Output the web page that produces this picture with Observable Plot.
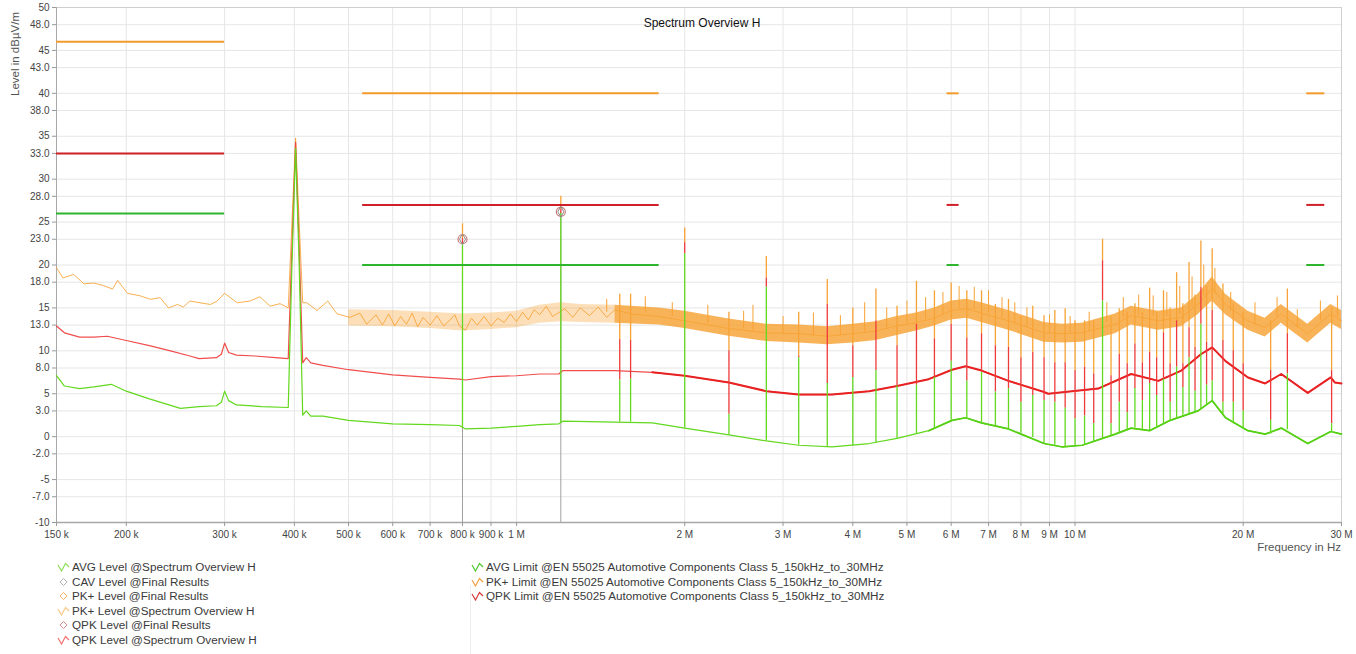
<!DOCTYPE html>
<html><head><meta charset="utf-8">
<script src="https://cdn.jsdelivr.net/npm/d3@7"></script>
<script src="https://cdn.jsdelivr.net/npm/@observablehq/plot@0.6"></script>
<style>
body{margin:0;background:#fff;font-family:"Liberation Sans",Arial,sans-serif;}
#wrap{position:relative;width:1356px;height:654px;overflow:hidden;}
#ylab{position:absolute;left:9px;top:96px;transform:rotate(-90deg);transform-origin:left top;font-size:11.5px;color:#555;white-space:nowrap;line-height:13px;}
#xlab{position:absolute;right:15px;top:541px;font-size:11.5px;color:#555;white-space:nowrap;}
.leg{position:absolute;font-size:11.7px;color:#3a3a3a;line-height:14.5px;white-space:nowrap;}
.leg div{height:14.5px;display:flex;align-items:center;}
.leg svg{margin-right:2px;flex:none;}
#sep{position:absolute;left:470px;top:585px;width:1px;height:69px;background:#eee;}
</style></head><body><div id="wrap">
<div id="ylab">Level in dBµV/m</div>
<div id="xlab">Frequency in Hz</div>
<div id="sep"></div>
<div class="leg" id="legL" style="left:57px;top:560px;"></div>
<div class="leg" id="legR" style="left:471px;top:560px;"></div>
</div>
<script>
// ---------- axis ticks ----------
const xTicks = [150e3,200e3,300e3,400e3,500e3,600e3,700e3,800e3,900e3,1e6,2e6,3e6,4e6,5e6,6e6,7e6,8e6,9e6,10e6,20e6,30e6];
const yTicks = [50,48,45,43,40,38,35,33,30,28,25,23,20,18,15,13,10,8,5,3,0,-2,-5,-7,-10];

// ---------- limit lines (EN 55025 Class 5) ----------
const limitStart = [150e3, 530e3, 5.9e6, 26e6];
const limitEnd   = [300e3, 1.8e6, 6.2e6, 28e6];
const pkLimit    = [46, 40, 40, 40];
const qpkLimit   = [33, 27, 27, 27];
const avgLimit   = [26, 20, 20, 20];

// ---------- PK+ level trace ----------
const pkFreq  = [150e3,154e3,161e3,168e3,175e3,182e3,189e3,193e3,201e3,212e3,221e3,230e3,238e3,247e3,253e3,260e3,271e3,283e3,291e3,300e3,316e3,333e3,347e3,362e3,377e3,390e3,396e3,402e3,408e3,414e3,421e3,439e3,459e3,477e3,503e3,524e3,539e3,560e3,575e3,590e3,605e3,620e3,635e3,650e3,665e3,680e3,700e3,720e3,740e3,760e3,775e3,790e3,810e3,830e3,850e3,875e3,900e3,925e3,950e3,975e3,1.0e6,1.025e6,1.05e6,1.075e6,1.1e6,1.13e6,1.16e6,1.22e6,1.26e6,1.3e6,1.35e6,1.4e6,1.45e6,1.5e6,1.6e6,1.8e6,2.0e6,2.4e6,2.8e6,3.2e6,3.6e6,4.0e6,4.4e6,4.8e6,5.2e6,5.6e6,6.0e6,6.4e6,6.8e6,7.6e6,8.8e6,9.5e6,10.3e6,11.8e6,12.6e6,14.1e6,15.5e6,16.6e6,17.6e6,18.6e6,20.4e6,21.9e6,23.4e6,26.1e6,28.7e6,30e6];
const pkLevel = [19.7,18.5,18.9,17.8,17.9,17.6,17.2,18.2,16.7,16.4,16.0,16.2,15.0,15.4,15.1,15.8,15.6,15.4,15.8,16.7,15.6,15.8,16.3,15.2,15.5,15.0,25.0,34.8,25.0,15.6,15.6,14.7,15.8,14.3,13.9,14.4,13.1,14.2,13.0,14.3,12.9,14.0,13.1,14.4,12.8,13.9,13.0,14.1,12.9,13.6,14.2,12.9,12.4,13.8,13.0,14.0,12.9,13.8,13.3,14.3,13.4,14.5,13.6,14.8,14.2,15.2,14.0,14.9,13.9,15.0,14.1,15.1,13.9,14.8,14.3,14.0,13.5,12.6,12.1,12.0,11.7,12.0,12.3,12.9,13.3,13.8,14.7,14.9,14.4,13.5,12.1,12.0,12.1,13.1,14.1,13.5,13.9,15.4,17.3,15.4,13.5,12.7,14.3,12.0,14.3,13.5];

// PK+ noise band (low / high envelope)
const band1Freq = [500e3,600e3,700e3,800e3,900e3,1.0e6,1.1e6,1.2e6,1.3e6,1.5e6];
const band1Low  = [12.9,12.8,12.6,12.3,12.5,12.7,13.2,13.4,13.3,13.2];
const band1High = [14.8,14.7,14.5,14.3,14.4,14.6,15.3,15.6,15.4,15.3];
const band2Freq = [1.5e6,1.8e6,2.0e6,2.4e6,2.8e6,3.2e6,3.6e6,4.0e6,4.4e6,4.8e6,5.2e6,5.6e6,6.0e6,6.4e6,6.8e6,7.6e6,8.8e6,9.5e6,10.3e6,11.8e6,12.6e6,14.1e6,15.5e6,16.6e6,17.6e6,18.6e6,20.4e6,21.9e6,23.4e6,26.1e6,28.7e6,30e6];
const band2Low  = [13.2,13.0,12.6,11.7,11.1,10.9,10.7,10.9,11.2,11.8,12.3,12.9,13.6,13.8,13.3,12.4,11.0,10.9,11.0,12.0,13.0,12.4,12.8,14.2,15.8,14.2,12.4,11.6,13.2,10.9,13.2,12.5];
const band2High = [15.3,15.0,14.6,13.7,13.1,13.0,12.8,13.1,13.4,14.0,14.4,15.0,15.8,16.0,15.6,14.7,13.3,13.1,13.2,14.3,15.2,14.6,15.0,16.6,18.6,16.6,14.6,13.8,15.4,13.1,15.4,14.7];

// PK+ only noise spikes sticking out of the band
const pkNoiseFreq = [1.45e6,1.7e6,1.9e6,2.2e6,2.55e6,2.65e6,3.0e6,3.4e6,3.8e6,4.2e6,4.6e6,5.0e6,5.4e6,5.8e6,6.2e6,6.6e6,7.0e6,7.4e6,7.8e6,8.2e6,9.0e6,9.8e6,10.6e6,11.4e6,12.2e6,13.0e6,13.8e6,14.6e6,15.4e6,16.2e6,17.0e6,17.8e6,19.0e6,21.0e6,23.0e6,25.0e6,27.5e6,29.5e6];
const pkNoiseTop  = [16.0,16.3,15.6,15.3,14.6,15.3,14.0,14.4,14.1,15.6,15.0,15.8,16.2,16.8,17.5,17.4,17.0,16.2,15.6,15.0,14.2,14.0,14.5,15.6,16.2,16.5,16.4,16.8,17.5,18.6,20.0,19.6,16.8,15.6,16.2,14.8,15.8,16.4];
const pkNoiseBase = [14.5,14.5,14.0,13.2,12.5,12.3,12.0,11.8,11.8,12.2,12.6,13.2,13.6,14.2,14.9,14.8,14.4,13.8,13.2,12.7,12.0,12.0,12.3,13.3,13.9,14.2,14.0,14.0,14.2,15.0,16.4,16.6,14.6,13.0,13.9,12.6,13.5,14.0];

// ---------- QPK level trace ----------
const qpkFreq  = [150e3,155e3,165e3,175e3,185e3,200e3,220e3,240e3,260e3,270e3,290e3,296e3,300e3,305e3,315e3,340e3,370e3,390e3,396e3,402e3,408e3,414e3,420e3,428e3,450e3,500e3,600e3,700e3,790e3,810e3,900e3,1.0e6,1.1e6,1.19e6,1.21e6,1.3e6,1.5e6,1.75e6,2.0e6,2.4e6,2.8e6,3.2e6,3.67e6,4.28e6,4.8e6,5.47e6,6.02e6,6.37e6,6.8e6,7.6e6,8.8e6,8.95e6,11.0e6,12.6e6,14.1e6,15.5e6,16.8e6,17.6e6,18.6e6,20.4e6,21.9e6,23.4e6,26.1e6,28.7e6,29.2e6,30e6];
const qpkLevel = [12.9,12.1,11.6,11.6,11.7,11.2,10.6,10.0,9.4,9.1,9.2,9.6,10.9,9.8,9.5,9.4,9.2,9.1,22.0,34.3,22.0,8.6,9.2,8.6,8.3,7.8,7.2,6.9,6.7,6.6,7.0,7.1,7.3,7.3,7.7,7.7,7.7,7.5,7.1,6.3,5.3,4.9,4.9,5.3,5.9,6.7,7.8,8.2,7.7,6.5,5.2,5.0,5.6,7.3,6.5,7.7,9.6,10.4,8.8,6.9,6.2,7.3,5.1,6.9,6.3,6.2];

// ---------- AVG level trace ----------
const avgFreq  = [150e3,155e3,165e3,175e3,188e3,200e3,220e3,250e3,270e3,290e3,296e3,300e3,305e3,315e3,350e3,390e3,396e3,402e3,408e3,414e3,420e3,428e3,450e3,500e3,600e3,700e3,790e3,810e3,900e3,1.0e6,1.1e6,1.19e6,1.21e6,1.5e6,1.75e6,2.0e6,2.4e6,2.8e6,3.2e6,3.67e6,4.28e6,4.8e6,5.47e6,6.02e6,6.37e6,6.8e6,7.6e6,8.8e6,9.5e6,10.3e6,11.8e6,12.6e6,13.6e6,14.8e6,16.6e6,17.6e6,18.6e6,20.4e6,21.9e6,23.4e6,26.1e6,28.7e6,30e6];
const avgLevel = [7.1,5.9,5.6,5.8,6.1,5.3,4.4,3.3,3.5,3.6,4.0,5.3,4.2,3.7,3.5,3.4,20.0,33.6,20.0,2.5,3.0,2.4,2.4,1.9,1.5,1.4,1.3,0.9,1.0,1.2,1.4,1.5,1.8,1.7,1.6,1.0,0.2,-0.5,-1.0,-1.2,-0.8,-0.2,0.7,1.9,2.2,1.6,0.9,-0.8,-1.2,-1.0,0.3,1.0,0.7,1.9,3.0,4.2,2.2,0.7,0.3,1.0,-0.8,0.6,0.3];

// ---------- narrow spikes (switching harmonics) ----------
const spikeFreq = [800e3,1.2e6,1.53e6,1.6e6,2.0e6,2.4e6,2.8e6,3.2e6,3.6e6,4.0e6,4.4e6,4.8e6,5.2e6,5.6e6,6.0e6,6.4e6,6.8e6,7.2e6,7.6e6,8.0e6,8.4e6,8.8e6,9.2e6,9.6e6,10.0e6,10.4e6,10.8e6,11.2e6,11.6e6,12.0e6,12.4e6,12.8e6,13.2e6,13.6e6,14.0e6,14.4e6,14.8e6,15.2e6,15.6e6,16.0e6,16.4e6,16.8e6,17.2e6,17.6e6,18.4e6,19.2e6,20.0e6,22.4e6,24.0e6,28.8e6];
const spikePk   = [24.8,28.0,16.6,16.6,24.3,14.5,21.0,14.5,18.3,15.0,17.2,15.2,18.1,17.0,17.9,17.0,17.0,15.4,16.0,14.0,15.2,14.1,14.7,14.9,13.5,13.5,13.5,23.0,14.0,14.9,14.5,15.5,14.5,17.3,14.5,17.0,15.0,19.1,15.5,20.3,16.5,22.8,17.5,21.9,17.8,15.5,14.5,13.5,17.2,15.0];
const spikeQpk  = [23.1,26.5,11.3,11.2,22.6,10.0,18.5,9.4,15.4,10.6,13.5,10.6,13.1,11.4,13.1,11.5,12.0,10.6,10.4,9.2,9.8,9.2,8.6,8.6,7.7,8.1,7.3,20.5,7.1,9.6,8.5,10.8,8.6,9.8,9.2,12.1,8.5,13.5,8.5,12.7,10.4,17.4,11.0,14.7,11.2,10.0,8.5,7.7,12.0,7.7];
const spikeAvg  = [22.5,26.0,6.6,6.7,21.3,2.6,17.4,9.2,6.2,6.9,7.7,5.9,6.0,6.9,8.8,6.5,7.5,5.2,5.6,4.0,4.8,4.2,4.0,3.3,2.1,2.4,1.5,15.8,1.5,4.0,2.8,5.6,4.2,6.2,4.8,6.7,4.0,8.1,5.7,9.2,5.3,13.1,6.0,6.5,4.0,4.0,3.0,1.9,7.3,1.5];
const spikeBase = [1.1,1.6,1.7,1.7,1.0,0.2,-0.5,-1.0,-1.2,-1.1,-0.7,-0.2,0.3,0.9,1.9,2.2,1.6,1.2,0.9,0.4,-0.1,-0.8,-1.0,-1.2,-1.1,-1.0,-0.6,-0.3,0.1,0.4,0.8,1.0,0.8,0.7,1.0,1.4,1.9,2.2,2.5,2.7,2.9,3.2,3.7,4.2,2.6,1.5,0.9,0.3,0.8,0.5];

// ---------- final results ----------
const finalFreq = [800e3, 1.2e6];
const finalQpk  = [23.0, 26.2];

// ---------- colours ----------
const pkColor = "#f7a234", qpkColor = "#ee3a3a", avgColor = "#62d81e";
const pkLimColor = "#f39a2b", qpkLimColor = "#d01f28", avgLimColor = "#2db52d";

// ---------- build tables ----------
const toRows = (fs, vs) => fs.map((f, i) => ({f, v: vs[i]}));
const pkRows = toRows(pkFreq, pkLevel);
const qpkRows = toRows(qpkFreq, qpkLevel);
const avgRows = toRows(avgFreq, avgLevel);
const band1 = band1Freq.map((f, i) => ({f, lo: band1Low[i], hi: band1High[i]}));
const band2 = band2Freq.map((f, i) => ({f, lo: band2Low[i], hi: band2High[i]}));
const pkNoise = pkNoiseFreq.map((f, i) => ({f, top: pkNoiseTop[i], base: pkNoiseBase[i]}));
const limits = limitStart.map((s, i) => ({s, e: limitEnd[i], pk: pkLimit[i], qpk: qpkLimit[i], avg: avgLimit[i]}));
const spikes = spikeFreq.map((f, i) => ({f, pk: spikePk[i], qpk: spikeQpk[i], avg: spikeAvg[i], base: spikeBase[i]}));
const finals = finalFreq.map((f, i) => ({f, v: finalQpk[i]}));

const xFmt = d => d >= 1e6 ? `${d / 1e6} M` : `${d / 1e3} k`;
const yFmt = d => d % 5 === 0 ? `${d}` : d.toFixed(1);

const chart = Plot.plot({
  width: 1356, height: 556,
  marginLeft: 56, marginRight: 15, marginTop: 7, marginBottom: 34,
  style: {fontFamily: "'Liberation Sans', Arial, sans-serif", fontSize: "10px", color: "#444", background: "#fff"},
  x: {type: "log", domain: [150e3, 30e6]},
  y: {domain: [-10, 50]},
  marks: [
    Plot.gridY({ticks: yTicks, stroke: "#e6e6e6", strokeOpacity: 1}),
    Plot.gridX({ticks: xTicks, stroke: "#e6e6e6", strokeOpacity: 1}),
    Plot.frame({stroke: "#cfcfcf"}),
    Plot.ruleX([150e3], {stroke: "#a8a8a8"}),
    Plot.ruleY([-10], {stroke: "#a8a8a8", strokeWidth: 1.5}),
    Plot.axisY({ticks: yTicks, tickFormat: yFmt, tickSize: 4, tickPadding: 3, stroke: "#999", fill: "#444"}),
    Plot.axisX({ticks: xTicks, tickFormat: () => "", tickSize: 4, stroke: "#999"}),
    Plot.text(xTicks, {x: d => d, y: -10, text: xFmt, dy: 12, fill: "#444", fontSize: 10}),
    Plot.text(["Spectrum Overview H"], {frameAnchor: "top", dy: 11, dx: 3, fontSize: 12, fill: "#111"}),
    // final-result gray marker lines
    Plot.ruleX(finals, {x: "f", y1: -10, y2: "v", stroke: "#a0a0a0", strokeWidth: 1}),
    // PK+ level
    Plot.areaY(band1, {x: "f", y1: "lo", y2: "hi", fill: pkColor, fillOpacity: 0.35, curve: "linear"}),
    Plot.areaY(band2, {x: "f", y1: "lo", y2: "hi", fill: pkColor, fillOpacity: 0.82, curve: "linear"}),
    Plot.line(pkRows, {x: "f", y: "v", stroke: pkColor, strokeWidth: 1, strokeOpacity: 0.85}),
    Plot.ruleX(pkNoise, {x: "f", y1: "base", y2: "top", stroke: pkColor, strokeWidth: 1}),
    Plot.ruleX(spikes, {x: "f", y1: "qpk", y2: "pk", stroke: pkColor, strokeWidth: 1.3}),
    // QPK level (thin at low frequencies, thicker noisy trace above ~1.75 MHz)
    Plot.line(qpkRows, {x: "f", y: "v", stroke: qpkColor, strokeWidth: 1.2, strokeOpacity: 0.9}),
    Plot.line(qpkRows, {filter: d => d.f >= 1.75e6, x: "f", y: "v", stroke: "#e82222", strokeWidth: 2}),
    Plot.ruleX(spikes, {x: "f", y1: "avg", y2: "qpk", stroke: qpkColor, strokeWidth: 1.3}),
    // AVG level
    Plot.line(avgRows, {x: "f", y: "v", stroke: avgColor, strokeWidth: 1.2}),
    Plot.line(avgRows, {filter: d => d.f >= 5.4e6, x: "f", y: "v", stroke: "#55d014", strokeWidth: 1.7}),
    Plot.ruleX(spikes, {x: "f", y1: "base", y2: "avg", stroke: avgColor, strokeWidth: 1.3}),
    // limits
    Plot.ruleY(limits, {x1: "s", x2: "e", y: "pk", stroke: pkLimColor, strokeWidth: 2}),
    Plot.ruleY(limits, {x1: "s", x2: "e", y: "qpk", stroke: qpkLimColor, strokeWidth: 2}),
    Plot.ruleY(limits, {x1: "s", x2: "e", y: "avg", stroke: avgLimColor, strokeWidth: 2}),
    // final results markers
    Plot.dot(finals, {x: "f", y: "v", symbol: "circle", r: 4.5, stroke: "#c97a7a", strokeWidth: 1.2, fill: "none"}),
    Plot.dot(finals, {x: "f", y: "v", symbol: "diamond", r: 3.2, stroke: "#8a8a8a", strokeWidth: 1, fill: "none"})
  ]
});
document.getElementById("wrap").prepend(chart);

// ---------- legend ----------
const wave = c => `<svg width="13" height="10" viewBox="0 0 13 10"><path d="M1,3 L4.5,9 L8.5,1.5 L12,5" fill="none" stroke="${c}" stroke-width="1.2"/></svg>`;
const diamond = c => `<svg width="13" height="10" viewBox="0 0 13 10"><path d="M6.5,1.5 L10,5 L6.5,8.5 L3,5 Z" fill="none" stroke="${c}" stroke-width="1"/></svg>`;
const legLeft = [
  [wave("#8ee05a"), "AVG Level @Spectrum Overview H"],
  [diamond("#b0b0b0"), "CAV Level @Final Results"],
  [diamond("#f4b36a"), "PK+ Level @Final Results"],
  [wave("#f8c987"), "PK+ Level @Spectrum Overview H"],
  [diamond("#e58c8c"), "QPK Level @Final Results"],
  [wave("#f07272"), "QPK Level @Spectrum Overview H"]
];
const legRight = [
  [wave("#4cc82c"), "AVG Limit @EN 55025 Automotive Components Class 5_150kHz_to_30MHz"],
  [wave("#f4a040"), "PK+ Limit @EN 55025 Automotive Components Class 5_150kHz_to_30MHz"],
  [wave("#d83a3a"), "QPK Limit @EN 55025 Automotive Components Class 5_150kHz_to_30MHz"]
];
const fill = (id, items) => {
  document.getElementById(id).innerHTML = items.map(([ic, t]) => `<div>${ic}<span>${t}</span></div>`).join("");
};
fill("legL", legLeft);
fill("legR", legRight);
</script>
</body></html>
